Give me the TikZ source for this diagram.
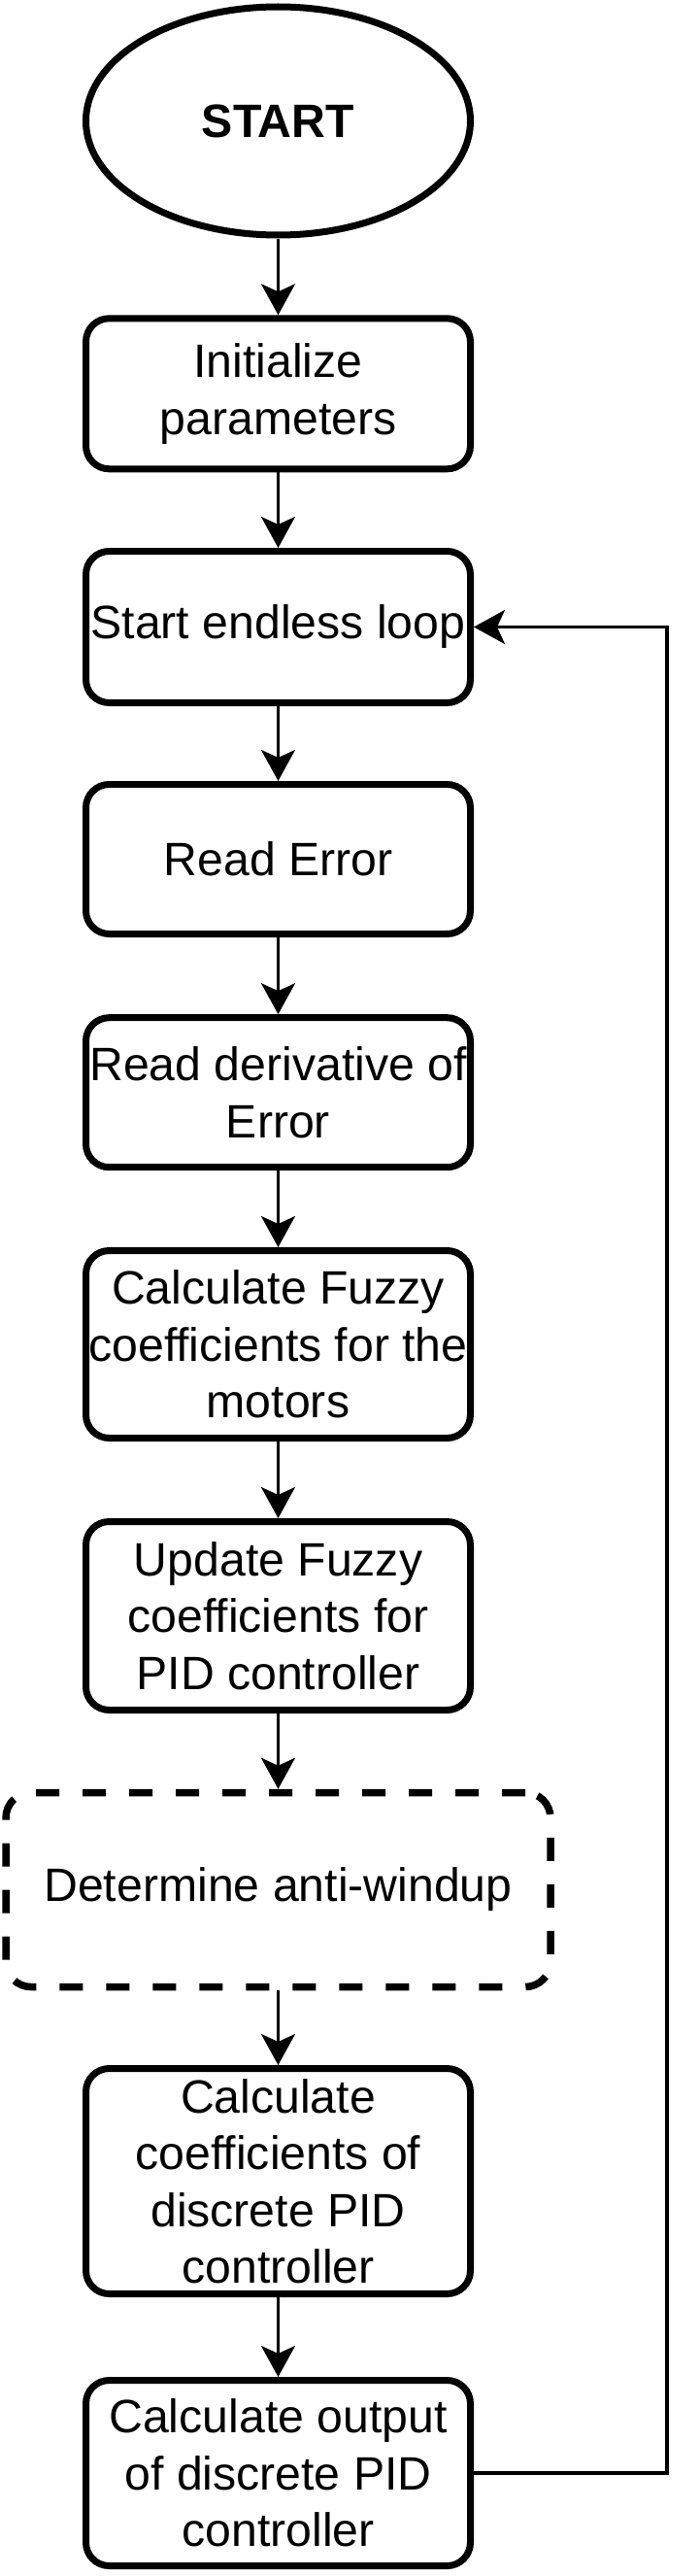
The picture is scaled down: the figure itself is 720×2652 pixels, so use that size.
\documentclass[tikz,border=0pt]{standalone}
\usepackage{fontspec}
\setmainfont{Liberation Sans}
\usetikzlibrary{shapes.geometric,arrows.meta}
\begin{document}
\begin{tikzpicture}[x=1pt,y=-1pt,
  txt/.style={align=center, inner sep=0pt, font=\fontsize{48.2}{58.5}\selectfont},
  proc/.style={txt, draw, line width=7pt, rounded corners=24pt, minimum width=396pt},
  dproc/.style={txt, draw, line width=7.5pt, rounded corners=26pt, dash pattern=on 24pt off 24pt, minimum width=561pt},
  term/.style={txt, draw, ellipse, line width=7pt, minimum width=396pt, minimum height=235pt, font=\fontsize{48.2}{58.5}\selectfont\bfseries},
  arr/.style={line width=3.2pt, -{Stealth[length=32pt, width=35pt, inset=8pt]}}
]
\useasboundingbox (0,0) rectangle (720,2652);
\node[term] (st) at (286.5,124.5) {START};
\node[proc, minimum height=155pt] (b1) at (286.5,405.3) {Initialize\\parameters};
\node[proc, minimum height=156pt] (b2) at (286.5,645.5) {Start endless loop};
\node[proc, minimum height=154pt] (b3) at (286.5,884.5) {Read Error};
\node[proc, minimum height=154pt] (b4) at (286.5,1124.7) {Read derivative of\\Error};
\node[proc, minimum height=193pt] (b5) at (286.5,1384) {Calculate Fuzzy\\coefficients for the\\motors};
\node[proc, minimum height=194pt] (b6) at (286.5,1663.5) {Update Fuzzy\\coefficients for\\PID controller};
\node[dproc, minimum height=200pt] (b7) at (286.5,1945.5) {Determine anti-windup};
\node[proc, minimum height=232pt] (b8) at (286.5,2245.5) {Calculate\\coefficients of\\discrete PID\\controller};
\node[proc, minimum height=191pt] (b9) at (286.5,2546) {Calculate output\\of discrete PID\\controller};
\coordinate (lx) at (687,0);
\draw[arr] (st) -- (b1);
\draw[arr] (b1) -- (b2);
\draw[arr] (b2) -- (b3);
\draw[arr] (b3) -- (b4);
\draw[arr] (b4) -- (b5);
\draw[arr] (b5) -- (b6);
\draw[arr] (b6) -- (b7);
\draw[arr] (b7) -- (b8);
\draw[arr] (b8) -- (b9);
\draw[arr] (b9.east) -- (b9.east -| lx) -- (b2.east -| lx) -- (b2.east);
\end{tikzpicture}
\end{document}
